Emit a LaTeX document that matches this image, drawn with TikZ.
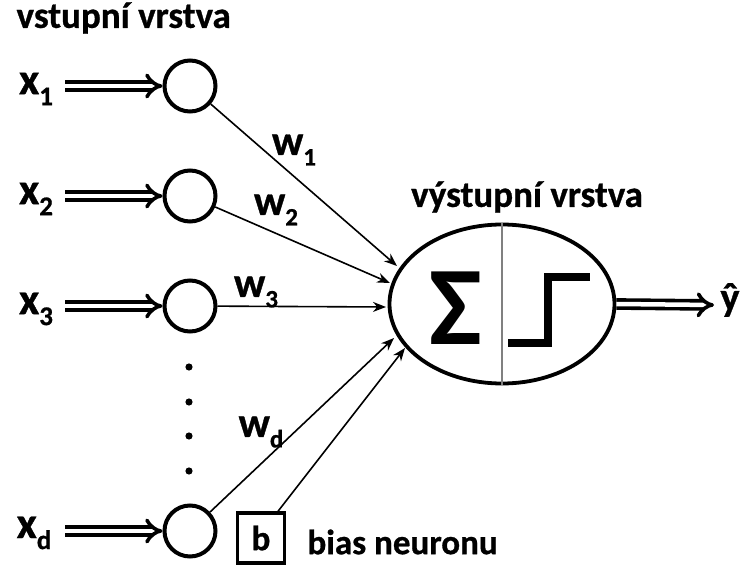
\documentclass[tikz,border=0pt]{standalone}
\usepackage{fontspec}
\setmainfont[BoldFeatures={FakeBold=0.8}]{Carlito}
\newfontfamily\plaincarlito{Carlito}
\usetikzlibrary{arrows.meta,shapes.geometric}
\newcommand{\fsz}[1]{\fontsize{#1}{#1}\selectfont}
\begin{document}
\begin{tikzpicture}[x=1pt,y=-1pt,
  every node/.style={font=\bfseries},
  inneuron/.style={circle,draw,line width=4pt,minimum size=51pt,inner sep=0pt},
  dblarrow/.style={double,double distance=4.5pt,line width=3.6pt,-{Implies[length=12pt]}},
  wline/.style={line width=1.6pt,-{Stealth[length=13pt,width=10pt]}},
  xlab/.style={font=\bfseries\fsz{44}},
  wlab/.style={font=\bfseries\fsz{42}},
  head/.style={font=\bfseries\fsz{37}}]
\useasboundingbox (0,0) rectangle (740,567);

% header
\node[head,anchor=west] (inhead) at (13,18) {vstupní vrstva};
\node[head] (outhead) at (527,197) {výstupní vrstva};

% input neurons
\node[inneuron] (n1) at (190,86) {};
\node[inneuron] (n2) at (190,196) {};
\node[inneuron] (n3) at (190,306) {};
\node[inneuron] (nd) at (190,531) {};

% input labels
\node[xlab] (x1) at (36,89) {x\raisebox{-0.25em}{\fsz{27}1}};
\node[xlab] (x2) at (36,199) {x\raisebox{-0.25em}{\fsz{27}2}};
\node[xlab] (x3) at (36,309) {x\raisebox{-0.25em}{\fsz{27}3}};
\node[xlab] (xd) at (34,533) {x\raisebox{-0.25em}{\fsz{27}d}};

\coordinate (a1) at (65,86);
\coordinate (a2) at (65,196);
\coordinate (a3) at (65,306);
\coordinate (ad) at (65,531);
\draw[dblarrow] (a1) -- (n1);
\draw[dblarrow] (a2) -- (n2);
\draw[dblarrow] (a3) -- (n3);
\draw[dblarrow] (ad) -- (nd);

% dots
\foreach \yy in {367,402,436,471}
  \fill (189,\yy) circle (3.6pt);

% output neuron
\node[ellipse,draw,line width=3.8pt,minimum width=225pt,minimum height=159pt,inner sep=0pt] (out) at (502,304) {};
\draw[gray,line width=2pt] (out.north) -- (out.south);
\node[font=\plaincarlito\bfseries\fsz{112}] (sigma) at (456,308) {Σ};
\draw[line width=8pt,line cap=butt] (508,343) -- (548,343) -- (548,277) -- (590,277);

% output
\coordinate (yend) at (714,305);
\draw[dblarrow] (out.east) -- (yend);
\node[font=\bfseries\fsz{40}] (yhat) at (730,300) {ŷ};

% weight arrows
\coordinate (t1) at (397,266);
\coordinate (t2) at (390,283);
\coordinate (t3) at (386,307);
\coordinate (td) at (394,338);
\coordinate (tb) at (405,348);
\draw[wline] (n1) -- (t1);
\draw[wline] (n2) -- (t2);
\draw[wline] (n3) -- (t3);
\draw[wline] (nd) -- (td);

\node[wlab] (w1) at (294,150) {w\raisebox{-0.25em}{\fsz{25}1}};
\node[wlab] (w2) at (276,210) {w\raisebox{-0.25em}{\fsz{25}2}};
\node[wlab] (w3) at (256,292) {w\raisebox{-0.25em}{\fsz{25}3}};
\node[wlab] (wd) at (261,432) {w\raisebox{-0.25em}{\fsz{25}d}};

% bias
\node[draw,line width=3.4pt,minimum width=47pt,minimum height=50pt,inner sep=0pt,font=\bfseries\fsz{35}] (b) at (261,538) {b};
\coordinate (bs) at ([xshift=17pt]b.north);
\draw[wline] (bs) -- (tb);
\node[head,font=\bfseries\fsz{35},anchor=west] (biaslab) at (304,542) {bias neuronu};
\end{tikzpicture}
\end{document}
